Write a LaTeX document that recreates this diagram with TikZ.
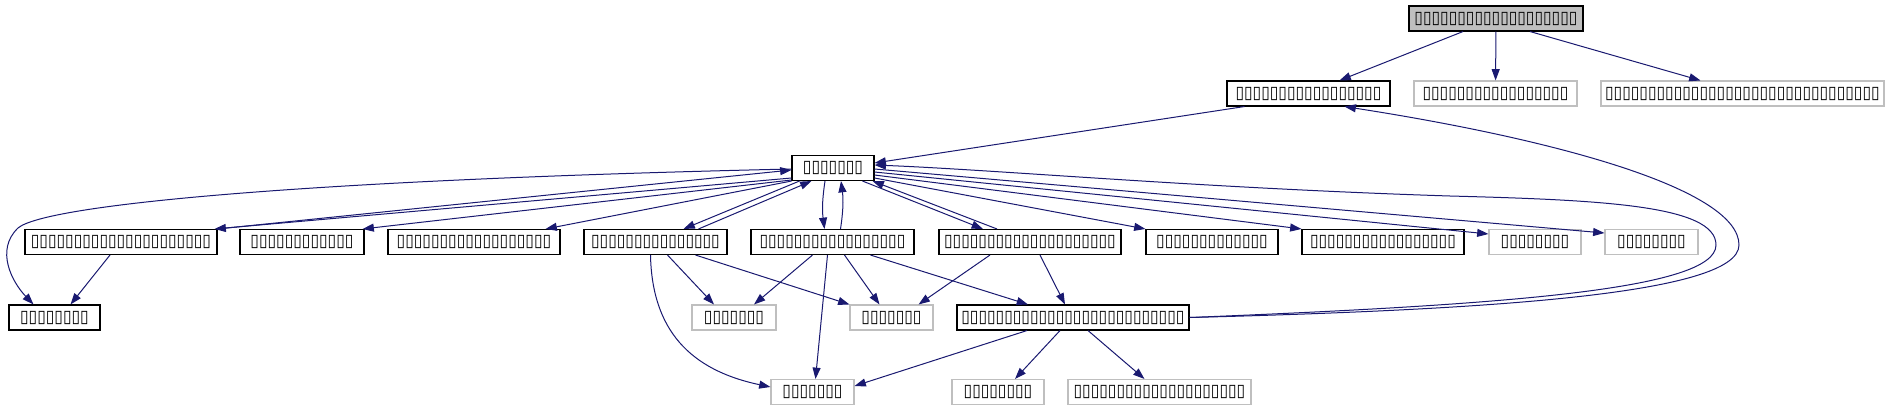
\documentclass[tikz,border=0pt]{standalone}
\usepackage{fontspec}
\newfontfamily\glyphfont[FakeStretch=0.9]{DejaVu Sans}
\usetikzlibrary{arrows.meta,calc}
\definecolor{edgeblue}{HTML}{191970}
\definecolor{greyline}{HTML}{BFBFBF}

\begin{document}
\begin{tikzpicture}[x=0.75pt, y=-0.75pt, >={Triangle[length=8.5pt,width=6pt]},
    file/.style={draw=black, line width=0.8pt, minimum height=18.75pt, inner sep=0pt, font=\glyphfont\fontsize{13}{14}\selectfont},
    extfile/.style={file, draw=greyline},
    rootfile/.style={file, fill=greyline},
    wd/.style={minimum width=#1*0.75pt},
    dep/.style={->, draw=edgeblue, line width=0.75pt}]
    \useasboundingbox (0, 0) rectangle (1889, 411);

    % top two rows
    \node[rootfile, wd=174] (T) at (1496, 18.5) {▯▯▯▯▯▯▯▯▯▯▯▯▯▯▯▯▯▯▯};
    \node[file, wd=163] (A) at (1308.5, 93.5) {▯▯▯▯▯▯▯▯▯▯▯▯▯▯▯▯▯};
    \node[extfile, wd=163] (Bg) at (1495.5, 93.5) {▯▯▯▯▯▯▯▯▯▯▯▯▯▯▯▯▯};
    \node[extfile, wd=283] (Cg) at (1742.5, 93.5) {▯▯▯▯▯▯▯▯▯▯▯▯▯▯▯▯▯▯▯▯▯▯▯▯▯▯▯▯▯▯▯▯};

    % hub
    \node[file, wd=82] (E) at (833, 168) {▯▯▯▯▯▯▯};

    % third row
    \node[file, wd=192] (N1) at (121, 242) {▯▯▯▯▯▯▯▯▯▯▯▯▯▯▯▯▯▯▯▯▯};
    \node[file, wd=124] (N2) at (302, 242) {▯▯▯▯▯▯▯▯▯▯▯▯};
    \node[file, wd=172] (N3) at (474, 242) {▯▯▯▯▯▯▯▯▯▯▯▯▯▯▯▯▯▯};
    \node[file, wd=143] (N4) at (655.5, 242) {▯▯▯▯▯▯▯▯▯▯▯▯▯▯▯};
    \node[file, wd=163] (N5) at (832.5, 242) {▯▯▯▯▯▯▯▯▯▯▯▯▯▯▯▯▯};
    \node[file, wd=182] (N6) at (1030, 242) {▯▯▯▯▯▯▯▯▯▯▯▯▯▯▯▯▯▯▯▯};
    \node[file, wd=132] (N7) at (1212, 242) {▯▯▯▯▯▯▯▯▯▯▯▯▯};
    \node[file, wd=162] (N8) at (1383, 242) {▯▯▯▯▯▯▯▯▯▯▯▯▯▯▯▯▯};
    \node[extfile, wd=92] (N9) at (1535, 242) {▯▯▯▯▯▯▯▯};
    \node[extfile, wd=93] (N10) at (1651.5, 242) {▯▯▯▯▯▯▯▯};

    % fourth row
    \node[file, wd=91] (L1) at (54.5, 317.5) {▯▯▯▯▯▯▯▯};
    \node[extfile, wd=84] (G1) at (734, 317.5) {▯▯▯▯▯▯▯};
    \node[extfile, wd=83] (G2) at (891.5, 317.5) {▯▯▯▯▯▯▯};
    \node[file, wd=232] (H) at (1073, 317.5) {▯▯▯▯▯▯▯▯▯▯▯▯▯▯▯▯▯▯▯▯▯▯▯▯▯▯};

    % bottom row
    \node[extfile, wd=83] (B1) at (812.5, 392) {▯▯▯▯▯▯▯};
    \node[extfile, wd=92] (B2) at (998, 392) {▯▯▯▯▯▯▯▯};
    \node[extfile, wd=183] (B3) at (1159.5, 392) {▯▯▯▯▯▯▯▯▯▯▯▯▯▯▯▯▯▯▯▯};

    \draw[dep] ($(T.south)+(-33,0)$) -- ($(A.north)+(31,0)$);
    \draw[dep] (T) -- (Bg);
    \draw[dep] ($(T.south)+(34,0)$) -- ($(Cg.north)+(-42,0)$);
    \draw[dep] ($(A.south west)+(18,0)$) -- ($(E.east)+(0,-5)$);

    % long loops on the right
    \draw[dep] (H.east) .. controls (1480, 310) and (1739, 295) .. (1739, 245)
        .. controls (1739, 190) and (1560, 140) .. ($(A.south)+(36,0)$);
    \draw[dep] (H.east) .. controls (1500, 305) and (1716, 290) .. (1716, 245)
        .. controls (1716, 205) and (1600, 200) .. (1450, 196)
        .. controls (1200, 188) and (1000, 170) .. ($(E.east)+(0,-3)$);

    % loop on the left
    \draw[dep] ($(E.west)+(0,1)$) .. controls (300, 180) and (45, 205) .. (18, 228)
        .. controls (-5, 250) and (12, 282) .. ($(L1.north)+(-21,0)$);
    \draw[dep] ($(N1.south)+(-11,0)$) -- ($(L1.north)+(16,0)$);

    \draw[dep] ($(E.west)+(0,10)$) -- ($(N1.north east)+(-3,0)$);
    \draw[dep] (N1.north east) -- ($(E.west)+(0,2)$);
    \draw[dep] ($(E.west)+(0,12)$) -- ($(N2.north east)+(-2,0)$);
    \draw[dep] (E.south west) -- ($(N3.north east)+(-15,0)$);
    \draw[dep] ($(E.south west)+(8,0)$) -- ($(N4.north)+(28,0)$);
    \draw[dep] ($(N4.north)+(43,0)$) -- ($(E.south west)+(20,0)$);
    \draw[dep] ($(E.south)+(-8,0)$) to[bend right=8] ($(N5.north)+(-8,0)$);
    \draw[dep] ($(N5.north)+(8,0)$) to[bend right=8] ($(E.south)+(8,0)$);
    \draw[dep] ($(E.south east)+(-12,0)$) -- ($(N6.north)+(-47,0)$);
    \draw[dep] ($(N6.north)+(-33,0)$) -- ($(E.south east)+(-2,0)$);
    \draw[dep] ($(E.east)+(0,10)$) -- (N7.north west);
    \draw[dep] ($(E.east)+(0,7)$) -- (N8.north west);
    \draw[dep] ($(E.east)+(0,4)$) -- ($(N9.west)+(0,-8)$);
    \draw[dep] ($(E.east)+(0,1)$) -- ($(N10.west)+(0,-9)$);

    \draw[dep] ($(N4.south)+(12,0)$) -- ($(G1.north)+(-20,0)$);
    \draw[dep] ($(N4.south)+(40,0)$) -- (G2.north west);
    \draw[dep] ($(N4.south)+(-5,0)$) .. controls (652, 330) and (690, 370) .. ($(B1.west)+(0,-5)$);
    \draw[dep] ($(N5.south)+(-20,0)$) -- ($(G1.north)+(20,0)$);
    \draw[dep] ($(N5.south)+(12,0)$) -- ($(G2.north)+(-12,0)$);
    \draw[dep] ($(N5.south)+(38,0)$) -- ($(H.north)+(-45,0)$);
    \draw[dep] ($(N5.south)+(-5,0)$) -- ($(B1.north)+(3,0)$);
    \draw[dep] ($(N6.south)+(-40,0)$) -- ($(G2.north east)+(-15,0)$);
    \draw[dep] ($(N6.south)+(10,0)$) -- ($(H.north)+(-8,0)$);
    \draw[dep] ($(H.south)+(-46,0)$) -- ($(B1.east)+(0,-6)$);
    \draw[dep] ($(H.south)+(-13,0)$) -- ($(B2.north)+(17,0)$);
    \draw[dep] ($(H.south)+(15,0)$) -- ($(B3.north)+(-15,0)$);
\end{tikzpicture}
\end{document}
